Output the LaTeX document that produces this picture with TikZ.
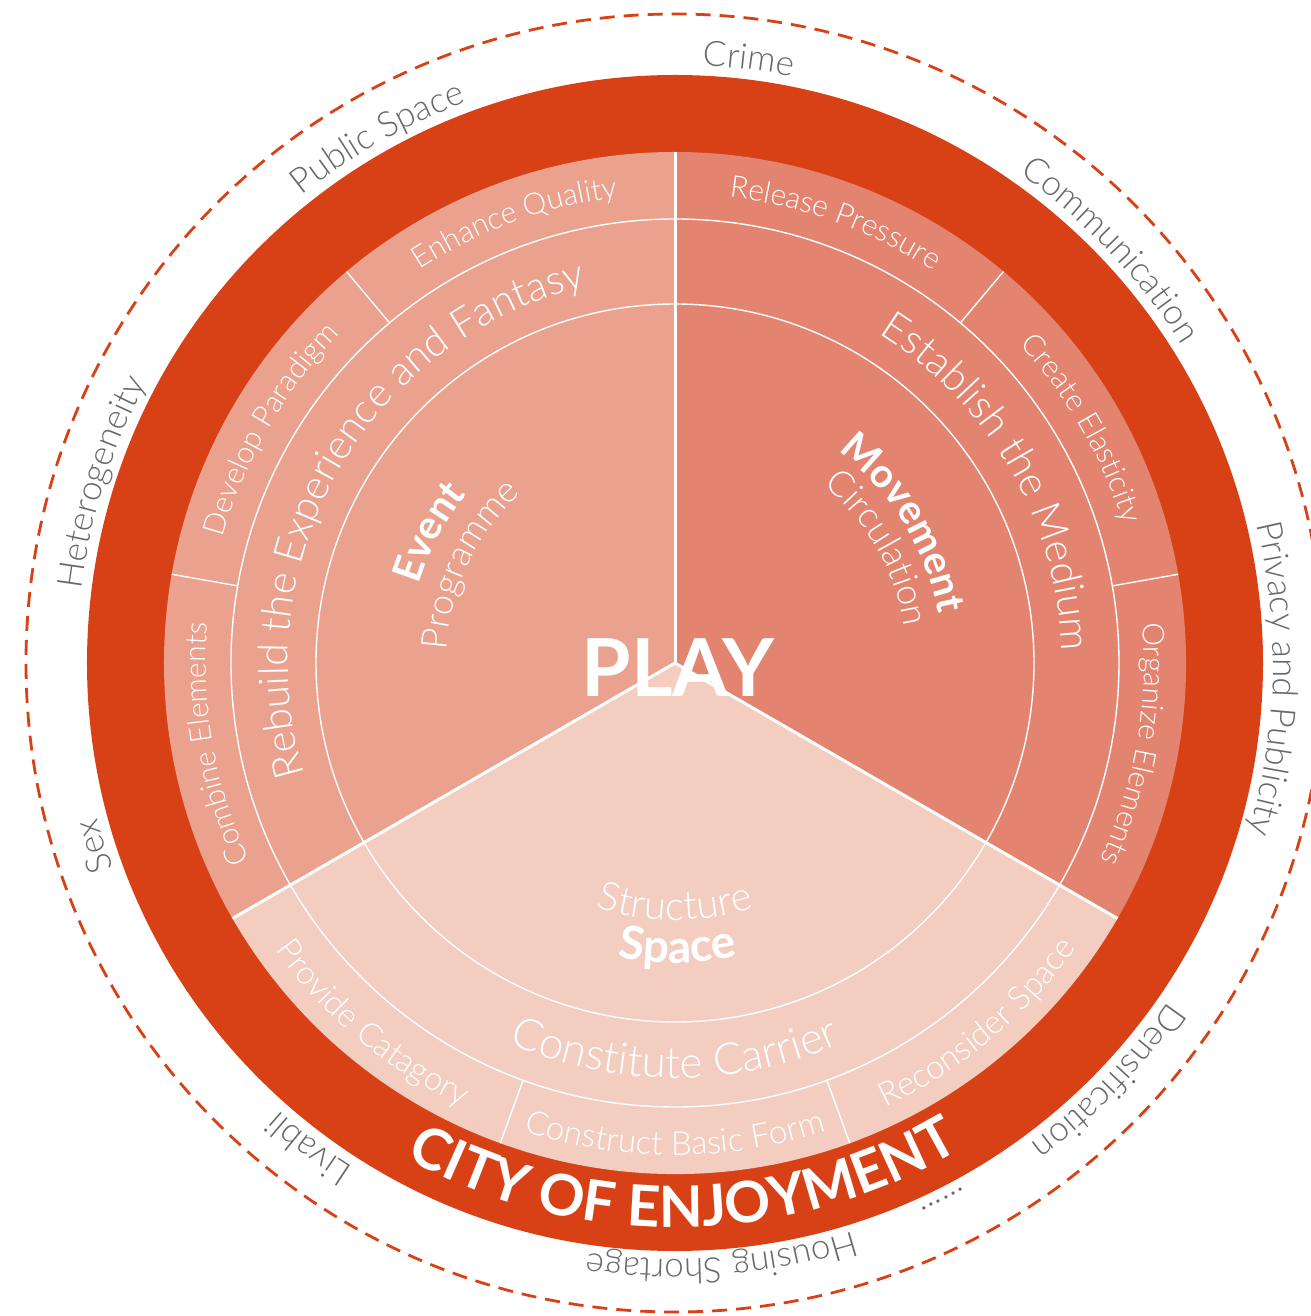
\documentclass[tikz,border=0pt]{standalone}
\usepackage{fontspec}
\setmainfont{Lato}
\newfontfamily\thin{Lato Light}
\usetikzlibrary{decorations.text}
\definecolor{ring}{RGB}{216,65,22}
\definecolor{evt}{RGB}{234,161,141}
\definecolor{mov}{RGB}{227,132,112}
\definecolor{spc}{RGB}{243,205,192}
\definecolor{grey}{RGB}{105,105,105}
\newcommand{\fs}[1]{\fontsize{#1}{#1}\selectfont}
% colour, font, centre angle, baseline radius, 1 clockwise / -1 anticlockwise, text
\newcommand{\arctext}[6]{\path[decorate,decoration={text along path,text align=center,text color=#1,text={|#2|#6}}]
	(#3+#5*70:#4) arc[start angle=#3+#5*70,end angle=#3-#5*70,radius=#4];}
\begin{document}
\begin{tikzpicture}[x=1pt,y=1pt,sep/.style={white,line width=3pt},rim/.style={white,line width=1.4pt}]
	\useasboundingbox (-675,-653) rectangle (635,663);
	\coordinate (o) at (0,0);
	\draw[ring,line width=2.8pt,dash pattern=on 15pt off 9pt] (o) circle (649);
	\fill[ring] (o) circle (588);
	\fill[evt] (o) -- (90:511) arc[start angle=90,end angle=210,radius=511] -- cycle;
	\fill[mov] (o) -- (-30:511) arc[start angle=-30,end angle=90,radius=511] -- cycle;
	\fill[spc] (o) -- (210:511) arc[start angle=210,end angle=330,radius=511] -- cycle;
	\draw[rim] (o) circle (359) (o) circle (444);
	\foreach \a in {10,50,130,170,250,290} \draw[rim] (\a:444) -- (\a:511);
	\foreach \a in {90,210,330} \draw[sep] (o) -- (\a:511);
	% outer ring of issues
	\arctext{grey}{\thin\fs{35}}{83}{598}{1}{Crime}
	\arctext{grey}{\thin\fs{35}}{119.5}{598}{1}{Public Space}
	\arctext{grey}{\thin\fs{35}}{162.5}{598}{1}{Heterogeneity}
	\arctext{grey}{\thin\fs{35}}{197.5}{598}{1}{Sex}
	\arctext{grey}{\thin\fs{35}}{233}{598}{1}{Livabli}
	\arctext{grey}{\thin\fs{35}}{274.5}{596}{1}{Housing Shortage}
	\arctext{grey}{\thin\fs{35}}{296.5}{598}{1}{......}
	\arctext{grey}{\thin\fs{35}}{316}{598}{1}{Densification}
	\arctext{grey}{\thin\fs{35}}{-1.5}{598}{1}{Privacy and Publicity}
	\arctext{grey}{\thin\fs{35}}{43.5}{598}{1}{Communication}
	\arctext{white}{\bfseries\fs{57}}{271}{564}{-1}{CITY OF ENJOYMENT}
	% small segments
	\arctext{white}{\thin\fs{30}}{110}{469}{1}{Enhance Quality}
	\arctext{white}{\thin\fs{30}}{150}{469}{1}{Develop Paradigm}
	\arctext{white}{\thin\fs{30}}{190}{469}{1}{Combine Elements}
	\arctext{white}{\thin\fs{30}}{70}{469}{1}{Release Pressure}
	\arctext{white}{\thin\fs{30}}{30}{469}{1}{Create Elasticity}
	\arctext{white}{\thin\fs{30}}{-10}{469}{1}{Organize Elements}
	\arctext{white}{\thin\fs{33}}{230}{492}{-1}{Provide Catagory}
	\arctext{white}{\thin\fs{33}}{270}{492}{-1}{Construct Basic Form}
	\arctext{white}{\thin\fs{33}}{310}{492}{-1}{Reconsider Space}
	% middle ring
	\arctext{white}{\thin\fs{41}}{150}{387}{1}{Rebuild the Experience and Fantasy}
	\arctext{white}{\thin\fs{41}}{30}{387}{1}{Establish the Medium}
	\arctext{white}{\thin\fs{44}}{270}{415}{-1}{Constitute Carrier}
	% sectors
	\arctext{white}{\bfseries\fs{40}}{152}{268}{1}{Event}
	\arctext{white}{\thin\fs{36}}{154.5}{229}{1}{Programme}
	\arctext{white}{\bfseries\fs{40}}{31.5}{268}{1}{Movement}
	\arctext{white}{\thin\fs{36}}{29.5}{232}{1}{Circulation}
	\arctext{white}{\bfseries\fs{46}}{270.5}{300}{-1}{Space}
	\arctext{white}{\thin\fs{40}}{270}{257}{-1}{Structure}
	\node[white,font=\bfseries\fs{80}] (play) at (3,-5) {PLAY};
\end{tikzpicture}
\end{document}
